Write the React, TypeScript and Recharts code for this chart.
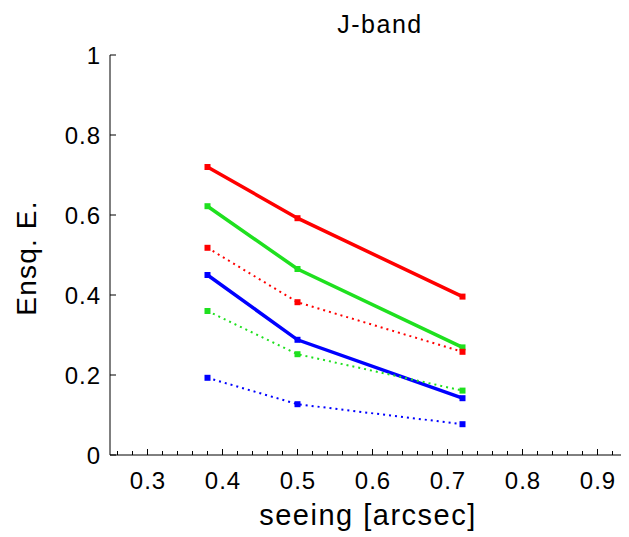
import { LineChart, Line, XAxis, YAxis } from "recharts";

// seeing values and the ensquared-energy curves
const seeing = [0.38, 0.5, 0.72];
const redSolid = [0.72, 0.592, 0.396];
const greenSolid = [0.622, 0.465, 0.269];
const blueSolid = [0.45, 0.288, 0.142];
const redDotted = [0.518, 0.382, 0.258];
const greenDotted = [0.36, 0.252, 0.161];
const blueDotted = [0.193, 0.127, 0.077];

const xTicks = [
  0.26, 0.28, 0.3, 0.32, 0.34, 0.36, 0.38, 0.4, 0.42, 0.44, 0.46, 0.48, 0.5, 0.52, 0.54, 0.56, 0.58,
  0.6, 0.62, 0.64, 0.66, 0.68, 0.7, 0.72, 0.74, 0.76, 0.78, 0.8, 0.82, 0.84, 0.86, 0.88, 0.9, 0.92, 0.94,
];
const yTicks = [0, 0.2, 0.4, 0.6, 0.8, 1];

const data = seeing.map((s, i) => ({
  seeing: s,
  redSolid: redSolid[i],
  greenSolid: greenSolid[i],
  blueSolid: blueSolid[i],
  redDotted: redDotted[i],
  greenDotted: greenDotted[i],
  blueDotted: blueDotted[i],
}));

const RED = "#ff0000";
const GREEN = "#1fe01f";
const BLUE = "#0000ff";
const FONT = "Arial, 'Liberation Sans', sans-serif";

const isMajor = (v: number) => Math.abs(v * 10 - Math.round(v * 10)) < 1e-6;

const XTick = (props: any) => {
  const { x, y, payload } = props;
  const major = isMajor(payload.value);
  return (
    <g>
      <line x1={x} x2={x} y1={y} y2={y - (major ? 6 : 4)} stroke="#000" strokeWidth={1} />
      {major && (
        <text x={x + 0.5} y={y + 34} textAnchor="middle" fontSize={24} letterSpacing={1} fontFamily={FONT} fill="#000">
          {payload.value.toFixed(1)}
        </text>
      )}
    </g>
  );
};

const YTick = (props: any) => {
  const { x, y, payload } = props;
  const v = payload.value;
  const label = v === 0 || v === 1 ? String(v) : v.toFixed(1);
  return (
    <g>
      <line x1={x} x2={x + 6} y1={y} y2={y} stroke="#000" strokeWidth={1} />
      <text x={x - 9} y={y + 8.5} textAnchor="end" fontSize={24} letterSpacing={1} fontFamily={FONT} fill="#000">
        {label}
      </text>
    </g>
  );
};

const square = (color: string, name: string) => (p: any) => (
  <rect key={`${name}-${p.index}`} x={p.cx - 3} y={p.cy - 3} width={6} height={6} fill={color} />
);

export default function App() {
  return (
    <div
      style={{
        position: "relative",
        width: 629,
        height: 537,
        margin: "-8px 0 0 -8px",
        overflow: "hidden",
        background: "#fff",
      }}
    >
      <LineChart width={645} height={537} data={data} margin={{ top: 55, right: 10, bottom: 42, left: 0 }}>
        <XAxis
          type="number"
          dataKey="seeing"
          domain={[0.25, 0.95]}
          ticks={xTicks}
          interval={0}
          height={40}
          tickSize={0}
          tickMargin={0}
          tickLine={false}
          axisLine={{ stroke: "#000", strokeWidth: 1 }}
          tick={<XTick />}
          allowDataOverflow
        />
        <YAxis
          type="number"
          domain={[0, 1]}
          ticks={yTicks}
          interval={0}
          width={110}
          tickSize={0}
          tickMargin={0}
          tickLine={false}
          axisLine={{ stroke: "#000", strokeWidth: 1 }}
          tick={<YTick />}
        />
        <Line type="linear" dataKey="redSolid" stroke={RED} strokeWidth={3.5} dot={square(RED, "rs")} isAnimationActive={false} />
        <Line type="linear" dataKey="greenSolid" stroke={GREEN} strokeWidth={3.5} dot={square(GREEN, "gs")} isAnimationActive={false} />
        <Line type="linear" dataKey="blueSolid" stroke={BLUE} strokeWidth={3.5} dot={square(BLUE, "bs")} isAnimationActive={false} />
        <Line type="linear" dataKey="redDotted" stroke={RED} strokeWidth={2} strokeDasharray="2 4" dot={square(RED, "rd")} isAnimationActive={false} />
        <Line type="linear" dataKey="greenDotted" stroke={GREEN} strokeWidth={2} strokeDasharray="2 4" dot={square(GREEN, "gd")} isAnimationActive={false} />
        <Line type="linear" dataKey="blueDotted" stroke={BLUE} strokeWidth={2} strokeDasharray="2 4" dot={square(BLUE, "bd")} isAnimationActive={false} />
      </LineChart>
      <svg
        width={629}
        height={537}
        style={{ position: "absolute", left: 0, top: 0, pointerEvents: "none" }}
      >
        <rect x={624} y={0} width={5} height={99} fill="#cce9ff" />
        <text x={380} y={33} textAnchor="middle" fontSize={25} letterSpacing={1.5} fontFamily={FONT} fill="#000">
          J-band
        </text>
        <text x={368} y={525} textAnchor="middle" fontSize={29} letterSpacing={1.5} fontFamily={FONT} fill="#000">
          seeing [arcsec]
        </text>
        <text
          x={0}
          y={0}
          transform="translate(36 258) rotate(-90)"
          textAnchor="middle"
          fontSize={28}
          letterSpacing={1.2}
          fontFamily={FONT}
          fill="#000"
        >
          Ensq. E.
        </text>
      </svg>
    </div>
  );
}
